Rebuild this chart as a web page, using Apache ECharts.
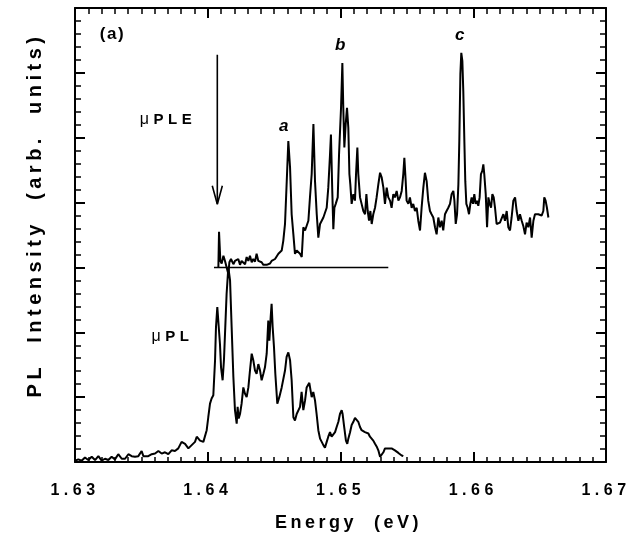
<!DOCTYPE html>
<html><head><meta charset="utf-8">
<script src="https://cdn.jsdelivr.net/npm/echarts@6/dist/echarts.min.js"></script>
<style>html,body{margin:0;padding:0;background:#fff}#c{width:641px;height:554px}</style>
</head><body><div id="c"></div>
<script>
// letter spacing emulation for the spaced-out typography of the original figure
(function(){
  const spacing = {'16':4.5,'18':3.5,'20':4.5,'17':1.5,'15':4.5};
  const P = CanvasRenderingContext2D.prototype;
  function setLS(ctx){
    const m = /(\d+(?:\.\d+)?)px/.exec(ctx.font || '');
    const s = m ? (spacing[m[1]] || 0) : 0;
    try { ctx.letterSpacing = s + 'px'; } catch(e) {}
  }
  const ft = P.fillText, mt = P.measureText, st = P.strokeText;
  P.fillText = function(){ setLS(this); return ft.apply(this, arguments); };
  P.strokeText = function(){ setLS(this); return st.apply(this, arguments); };
  P.measureText = function(){ setLS(this); return mt.apply(this, arguments); };
})();

// ---------------- DATA ----------------
const xTickValues = [1.63, 1.64, 1.65, 1.66, 1.67];

// micro-PLE spectrum [energy eV, intensity arb.]
const pleSpectrum = [
[1.64080,3.00],[1.64085,3.55],[1.64095,3.10],[1.64105,3.06],[1.64118,3.18],[1.64130,3.10],[1.64143,3.10],[1.64155,2.90],[1.64163,3.08],[1.64175,3.13],
[1.64193,3.05],[1.64205,3.10],[1.64218,3.08],[1.64230,3.13],[1.64243,3.04],[1.64255,3.10],[1.64268,3.08],[1.64281,3.05],[1.64293,3.16],[1.64306,3.10],
[1.64318,3.18],[1.64331,3.08],[1.64343,3.13],[1.64356,3.09],[1.64368,3.21],[1.64381,3.10],[1.64394,3.08],[1.64406,3.08],[1.64419,3.04],[1.64431,3.03],
[1.64444,3.04],[1.64456,3.03],[1.64469,3.06],[1.64481,3.10],[1.64494,3.08],[1.64507,3.13],[1.64519,3.10],[1.64532,3.21],[1.64544,3.21],[1.64557,3.26],
[1.64569,3.41],[1.64582,3.67],[1.64595,4.33],[1.64607,4.95],[1.64620,4.54],[1.64632,3.82],[1.64645,3.51],[1.64657,3.21],[1.64670,3.26],[1.64683,3.26],
[1.64695,3.21],[1.64708,3.16],[1.64720,3.62],[1.64733,3.57],[1.64745,3.54],[1.64758,3.72],[1.64770,4.08],[1.64783,4.44],[1.64796,5.21],[1.64808,4.33],
[1.64821,3.82],[1.64833,3.46],[1.64846,3.67],[1.64858,3.69],[1.64871,3.77],
[1.64883,3.77],[1.64896,3.92],[1.64908,4.23],[1.64921,4.74],[1.64928,5.05],[1.64938,4.18],[1.64946,3.59],[1.64954,3.92],[1.64964,3.98],[1.64979,4.08],
[1.64989,4.74],[1.65004,5.46],[1.65014,6.15],[1.65021,5.46],[1.65029,4.85],[1.65039,5.21],[1.65049,5.46],[1.65059,5.15],[1.65067,4.44],[1.65074,4.28],
[1.65084,3.98],[1.65097,4.13],[1.65109,4.03],[1.65117,4.44],[1.65127,4.85],[1.65134,4.44],[1.65147,4.08],[1.65159,3.98],[1.65172,3.87],[1.65185,3.82],
[1.65195,4.13],[1.65205,3.87],[1.65215,3.72],[1.65225,3.87],[1.65235,3.67],[1.65247,3.82],[1.65260,3.92],[1.65272,4.08],[1.65285,4.28],[1.65298,4.46],
[1.65310,4.39],[1.65323,4.23],[1.65335,3.98],[1.65348,4.23],[1.65360,4.08],[1.65373,4.03],[1.65385,3.92],[1.65398,4.13],[1.65410,4.08],[1.65423,4.18],
[1.65436,4.03],[1.65448,4.08],[1.65461,4.18],[1.65473,4.44],[1.65481,4.69],[1.65491,4.33],[1.65498,4.03],[1.65511,3.98],[1.65523,4.08],[1.65536,3.92],
[1.65548,3.98],[1.65561,3.87],[1.65574,3.92],[1.65586,3.72],[1.65599,3.57],[1.65611,3.92],[1.65624,4.23],[1.65636,4.46],[1.65649,4.33],[1.65661,4.03],
[1.65674,3.87],[1.65686,3.82],[1.65699,3.77],[1.65712,3.62],[1.65724,3.51],[1.65737,3.77],[1.65749,3.62],[1.65762,3.72],[1.65774,3.57],[1.65787,3.82],
[1.65799,3.87],[1.65812,3.92],[1.65825,3.98],
[1.65837,4.13],[1.65850,4.18],[1.65858,4.03],[1.65868,3.67],[1.65878,3.82],[1.65888,4.28],[1.65895,4.95],[1.65903,5.98],[1.65910,6.31],[1.65918,6.18],
[1.65925,5.72],[1.65933,4.95],[1.65940,4.33],[1.65948,3.98],[1.65958,3.92],[1.65968,3.82],[1.65978,3.98],[1.65988,4.08],[1.65998,3.98],[1.66008,4.13],
[1.66018,3.98],[1.66028,4.03],[1.66038,3.95],[1.66048,4.08],[1.66058,4.44],[1.66068,4.49],[1.66076,4.59],[1.66083,4.44],[1.66094,4.13],[1.66104,3.62],
[1.66114,4.08],[1.66124,3.98],[1.66134,3.92],[1.66144,4.13],[1.66154,4.08],[1.66164,3.92],[1.66176,3.67],[1.66189,3.64],[1.66201,3.69],[1.66214,3.67],
[1.66227,3.82],[1.66239,3.72],[1.66252,3.87],[1.66264,3.62],[1.66277,3.57],[1.66289,3.77],[1.66302,4.03],[1.66315,4.08],[1.66327,3.87],[1.66340,3.72],
[1.66352,3.82],[1.66365,3.72],[1.66377,3.64],[1.66390,3.51],[1.66402,3.69],[1.66415,3.62],[1.66428,3.77],[1.66440,3.46],[1.66453,3.72],[1.66465,3.82],
[1.66478,3.82],[1.66490,3.82],[1.66503,3.85],[1.66515,3.80],[1.66528,3.87],[1.66535,4.08],[1.66545,4.03],[1.66555,3.92],[1.66566,3.77]
];

// micro-PL spectrum [energy eV, intensity arb.]
const plSpectrum = [
[1.63000,0.02],[1.63025,0.04],[1.63050,0.02],[1.63075,0.07],[1.63100,0.03],[1.63126,0.08],[1.63151,0.03],[1.63176,0.09],[1.63201,0.02],[1.63226,0.05],
[1.63251,0.03],[1.63276,0.08],[1.63301,0.04],[1.63326,0.12],[1.63352,0.05],[1.63377,0.05],[1.63402,0.12],[1.63427,0.09],[1.63452,0.08],[1.63477,0.09],
[1.63502,0.17],[1.63515,0.09],[1.63527,0.07],[1.63552,0.09],[1.63578,0.12],[1.63603,0.13],[1.63628,0.17],[1.63653,0.13],[1.63678,0.15],[1.63703,0.12],
[1.63728,0.18],[1.63753,0.17],[1.63778,0.21],[1.63803,0.31],[1.63829,0.28],[1.63854,0.21],[1.63879,0.26],[1.63904,0.31],[1.63917,0.39],[1.63929,0.36],
[1.63942,0.33],[1.63967,0.31],[1.63992,0.49],[1.64004,0.69],[1.64017,0.90],[1.64029,0.98],[1.64042,1.03],[1.64055,1.57],[1.64062,2.08],[1.64072,2.39],
[1.64082,2.41],[1.64092,1.82],[1.64100,1.46],[1.64112,1.26],[1.64122,1.57],[1.64132,2.08],[1.64142,2.59],[1.64155,3.00],[1.64168,2.80],[1.64180,2.08],
[1.64193,1.31],[1.64205,0.80],[1.64218,0.59],[1.64225,0.85],[1.64233,0.67],[1.64243,0.74],[1.64255,0.90],[1.64268,1.15],[1.64281,1.05],[1.64293,1.00],
[1.64306,1.15],[1.64318,1.41],[1.64331,1.67],[1.64343,1.57],[1.64356,1.41],[1.64368,1.36],[1.64381,1.51],[1.64394,1.41],[1.64406,1.26],[1.64419,1.36],
[1.64431,1.46],[1.64444,1.67],[1.64456,2.18],[1.64464,1.87],[1.64474,2.23],[1.64481,2.44],[1.64489,2.08],[1.64499,1.77],[1.64509,1.36],[1.64524,0.90],
[1.64539,1.00],[1.64557,1.15],[1.64582,1.41],[1.64594,1.62],[1.64607,1.69],[1.64620,1.57],[1.64632,1.26],[1.64645,0.69],[1.64657,0.64],[1.64670,0.74],
[1.64682,0.72],[1.64695,0.85],[1.64707,1.08],[1.64720,0.80],[1.64733,0.95],[1.64745,1.15],
[1.64765,1.22],[1.64783,1.00],[1.64795,1.08],[1.64808,0.95],[1.64820,0.74],[1.64833,0.49],[1.64846,0.36],[1.64858,0.33],[1.64871,0.26],[1.64883,0.22],
[1.64896,0.31],[1.64908,0.39],[1.64921,0.46],[1.64933,0.39],[1.64946,0.39],[1.64959,0.46],[1.64971,0.54],[1.64984,0.62],[1.64996,0.74],[1.65009,0.80],
[1.65016,0.74],[1.65026,0.57],[1.65041,0.33],[1.65051,0.28],[1.65059,0.36],[1.65072,0.46],[1.65084,0.57],[1.65097,0.62],[1.65109,0.68],[1.65122,0.69],
[1.65134,0.62],[1.65147,0.54],[1.65159,0.49],[1.65172,0.49],[1.65184,0.46],[1.65197,0.46],[1.65210,0.44],[1.65222,0.39],[1.65235,0.41],[1.65247,0.33],
[1.65260,0.28],[1.65272,0.24],[1.65285,0.18],[1.65298,0.08],[1.65310,0.10],[1.65323,0.15],[1.65335,0.21],[1.65348,0.24],[1.65360,0.21],[1.65373,0.18],
[1.65385,0.21],[1.65398,0.22],[1.65410,0.18],[1.65423,0.15],[1.65436,0.14],[1.65448,0.12],[1.65461,0.10],[1.65473,0.09]
];

// PLE zero line, detection-energy arrow
const pleBaseline = [[1.64047,3.0],[1.65360,3.0]];
const arrowShaft = [[1.64072,6.28],[1.64072,3.98]];
const arrowHead = [[1.64034,4.26],[1.64072,3.975],[1.64110,4.26]];

// text annotations: [energy, intensity, text, style]
const annotations = [
  [1.63282, 6.60, '(a)', 'panel'],
  [1.63701, 5.28, '{mu|μ}{t|PLE}', 'mu'],
  [1.63734, 1.93, '{mu|μ}{t|PL}', 'mu'],
  [1.64578, 5.17, 'a', 'peak'],
  [1.65004, 6.43, 'b', 'peak'],
  [1.65904, 6.58, 'c', 'peak']
];

// ---------------- CHART ----------------
const FONT = 'Liberation Sans';
const chart = echarts.init(document.getElementById('c'), null, {renderer:'canvas'});

function axisBase(extra){
  return Object.assign({
    type:'value',
    axisLine:{show:true, onZero:false, lineStyle:{color:'#000', width:2}},
    splitLine:{show:false},
    axisTick:{show:true, inside:true, length:10, lineStyle:{color:'#000', width:2}},
    axisLabel:{show:false}
  }, extra);
}

const lineStyle = {color:'#000', width:2};
const labelStyles = {
  panel:{fontSize:17, fontWeight:'bold', fontFamily:FONT, color:'#000'},
  peak:{fontSize:17, fontWeight:'bold', fontStyle:'italic', fontFamily:FONT, color:'#000'},
  mu:{fontSize:15, fontWeight:'bold', fontFamily:FONT, color:'#000',
      rich:{mu:{fontSize:16, fontWeight:'normal', fontFamily:FONT, color:'#000'},
            t:{fontSize:15, fontWeight:'bold', fontFamily:FONT, color:'#000'}}}
};

chart.setOption({
  animation:false,
  backgroundColor:'#fff',
  grid:{left:75, right:35, top:8, bottom:92, containLabel:false, outerBoundsMode:'none'},
  xAxis:[
    axisBase({position:'bottom', min:1.63, max:1.67, interval:0.01,
      minorTick:{show:true, splitNumber:10, length:5, lineStyle:{color:'#000', width:1.5}},
      axisLabel:{show:true, showMinLabel:true, showMaxLabel:true, margin:18,
        formatter:v=>xTickValues.find(t=>Math.abs(t-v)<1e-6).toFixed(2),
        fontSize:16, fontWeight:'bold', fontFamily:FONT, color:'#000'},
      name:'Energy  (eV)', nameLocation:'middle', nameGap:50,
      nameTextStyle:{fontSize:18, fontWeight:'bold', fontFamily:FONT, color:'#000', padding:[0,0,0,16]}}),
    axisBase({position:'top', min:1.63, max:1.67, interval:0.01,
      minorTick:{show:true, splitNumber:10, length:6, lineStyle:{color:'#000', width:1.5}}})
  ],
  yAxis:[
    axisBase({position:'left', min:0, max:7, interval:1,
      minorTick:{show:true, splitNumber:5, length:6, lineStyle:{color:'#000', width:1.5}},
      name:'PL  Intensity  (arb.  units)', nameLocation:'middle', nameGap:27,
      nameTextStyle:{fontSize:20, fontWeight:'bold', fontFamily:FONT, color:'#000', padding:[0,0,0,40]}}),
    axisBase({position:'right', min:0, max:7, interval:1,
      minorTick:{show:true, splitNumber:5, length:6, lineStyle:{color:'#000', width:1.5}}})
  ],
  series:[
    {name:'μPLE', type:'line', data:pleSpectrum, showSymbol:false, symbol:'none', lineStyle:lineStyle, z:3},
    {name:'μPL', type:'line', data:plSpectrum, showSymbol:false, symbol:'none', lineStyle:lineStyle, z:3},
    {name:'baseline', type:'line', data:pleBaseline, symbol:'none', lineStyle:{color:'#000', width:1.6}},
    {name:'arrow', type:'line', data:arrowShaft, symbol:'none', lineStyle:{color:'#000', width:1.6}},
    {name:'arrowhead', type:'line', data:arrowHead, symbol:'none', lineStyle:{color:'#000', width:1.6}},
    {name:'labels', type:'scatter', symbolSize:0, silent:true,
      itemStyle:{opacity:1, color:'#000'}, emphasis:{disabled:true},
      data:annotations.map(a=>({value:[a[0],a[1]],
        label:Object.assign({show:true, position:'inside', opacity:1, formatter:a[2]}, labelStyles[a[3]])}))}
  ]
});
</script>
</body></html>
